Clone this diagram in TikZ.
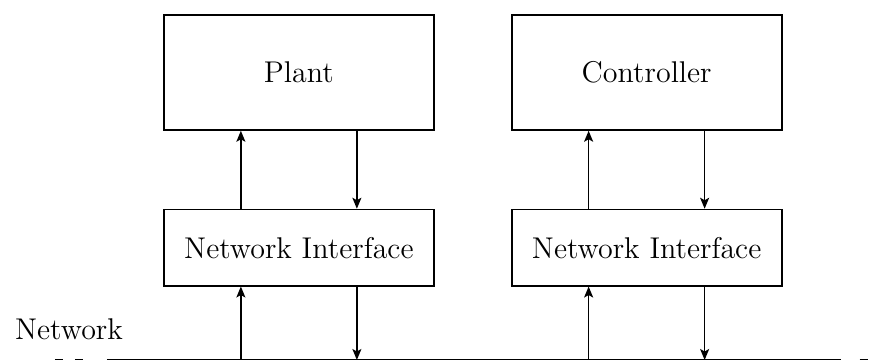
\documentclass[tikz,border=0pt]{standalone}
\usetikzlibrary{arrows.meta,positioning,calc}

\begin{document}
\begin{tikzpicture}[
  node distance=31.2pt and 30.4pt,
  block/.style={draw,line width=0.7pt,minimum width=108pt,font=\large},
  arrow/.style={-{Stealth[length=4.4pt,width=3.6pt,inset=1pt]},line width=0.6pt},
  bus/.style={line width=0.8pt}
]
\node[block,minimum height=46pt] (plant) {Plant};
\node[block,minimum height=46pt,right=of plant] (ctrl) {Controller};
\node[block,minimum height=30.4pt,below=of plant] (nifplant) {Network Interface};
\node[block,minimum height=30.4pt,below=of ctrl] (nifctrl) {Network Interface};
\useasboundingbox ($(plant.north west)+(-65.2pt,5.6pt)$) rectangle ++(349.6pt,-144pt);

% shared network line, dashed at both ends
\coordinate (busL) at ($(nifplant.south west)+(-22.4pt,-29.4pt)$);
\coordinate (busR) at ($(nifctrl.south east)+(23.2pt,-29.4pt)$);
\draw[bus] (busL) -- (busR);
\draw[bus,dash pattern=on 3.2pt off 4.8pt] ($(busL)+(-20.8pt,0)$) -- ($(busL)+(-9.6pt,0)$);
\draw[bus,dash pattern=on 3.2pt off 4.8pt] ($(busR)+(7.6pt,0)$) -- ($(busR)+(14pt,0)$);
\node[font=\large] (netlabel) at ($(busL)+(-15.2pt,12.4pt)$) {Network};

% links bus <-> interface <-> block
\foreach \n/\m in {nifplant/plant,nifctrl/ctrl} {
  \coordinate (\n-in) at ($(\n.south)+(-23.2pt,-29.4pt)$);
  \coordinate (\n-out) at ($(\n.south)+(23.2pt,-29.4pt)$);
  \draw[arrow] (\n-in) -- ([xshift=-23.2pt]\n.south);
  \draw[arrow] ([xshift=23.2pt]\n.south) -- (\n-out);
  \draw[arrow] ([xshift=-23.2pt]\n.north) -- ([xshift=-23.2pt]\m.south);
  \draw[arrow] ([xshift=23.2pt]\m.south) -- ([xshift=23.2pt]\n.north);
}
\end{tikzpicture}
\end{document}
